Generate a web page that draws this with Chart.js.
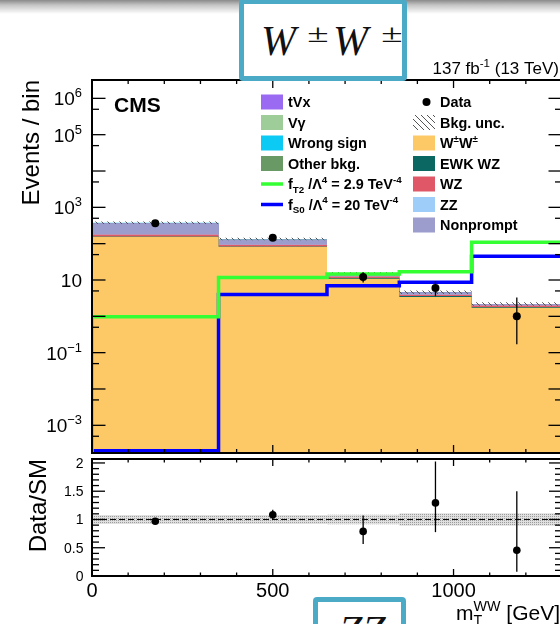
<!DOCTYPE html>
<html>
<head>
<meta charset="utf-8">
<script src="https://cdn.jsdelivr.net/npm/chart.js@4.4.0/dist/chart.umd.min.js"></script>
<style>
  html, body { margin: 0; padding: 0; background: #fff; width: 560px; height: 624px; overflow: hidden; position: relative; }
  canvas { position: absolute; left: 0; top: 0; }
  #sombra { position: absolute; left: 0; top: 0; width: 560px; height: 14px;
            background: linear-gradient(to bottom, #8a8a8a 0px, #c4c4c4 5px, rgba(255,255,255,0) 14px); }
  .caja { position: absolute; box-sizing: border-box; border: 5px solid #4baac5; border-radius: 4px;
          background: #fff; overflow: hidden; font-family: "Liberation Serif", "DejaVu Serif", serif;
          font-style: italic; color: #111; }
  .caja span { position: absolute; white-space: nowrap; }
  .caja .pm { font-size: 34px; line-height: 34px; transform: scale(1.15, 0.72); transform-origin: 0 28.5px; }
</style>
</head>
<body>
<canvas id="principal" width="580" height="624" style="width:580px;height:624px"></canvas>
<canvas id="cociente" width="580" height="624" style="width:580px;height:624px"></canvas>
<div id="sombra"></div>
<div class="caja" style="left:239px; top:-1px; width:168px; height:82px;">
  <span style="left:17px; top:16px; font-size:42px; line-height:42px;">W</span>
  <span class="pm" style="left:63px; top:10px;">±</span>
  <span style="left:89px; top:16px; font-size:42px; line-height:42px;">W</span>
  <span class="pm" style="left:137px; top:10px;">±</span>
</div>
<div class="caja" style="left:313px; top:597px; width:93px; height:60px;">
  <span style="left:21px; top:8px; font-size:42px; line-height:42px;">ZZ</span>
</div>
<script>
// bins en m_T^WW (GeV)
const bordes = [0, 350, 650, 850, 1050, 1300];

// datos observados y su intervalo
const datos = [365, 146, 12, 6, 1];
const datosBajo = [346, 134, 8.6, 3.6, 0.17];
const datosAlto = [385, 158, 16.3, 9.4, 3.3];

// fondos por bin (eventos)
const wpmwpm = [155, 82, 10.8, 3.4, 1.72];
const ewkWZ = [3, 2, 0.5, 0.2, 0.1];
const wz = [22, 10, 1.2, 0.35, 0.16];
const zz = [4, 1.5, 0.2, 0.05, 0.03];
const noPrompt = [170, 32, 1.8, 0.45, 0.13];
const tVx = [4, 1.5, 0.2, 0.05, 0.02];
const vGamma = [4, 1, 0.1, 0.03, 0.01];
const otrosFondos = [3, 1, 0.1, 0.03, 0.01];
const signoErroneo = [12, 4, 0.3, 0.08, 0.02];

// incertidumbre relativa del fondo
const incRelativa = [0.08, 0.08, 0.085, 0.11, 0.11];

// señales aQGC
const senalFT2 = [0.98, 11.8, 14.6, 17, 109];
const senalFS0 = [2e-4, 4.0, 6.9, 8.7, 45];

// etiquetas de los ejes
const exponentesY = [6, 5, 3, 1, -1, -3];
const marcasCociente = ['0', '0.5', '1', '1.5', '2'];
const marcasX = [0, 500, 1000];

const Y_MIN = 1.73e-4, Y_MAX = 3.2e6;
const X_MAX = 1300;
const FUENTE = '"Liberation Sans", Arial, Helvetica, sans-serif';

const colores = {
  ww: '#fdc967', ewk: '#0b6761', wz: '#e05867', zz: '#9fcdf9', np: '#9c9ccd',
  tvx: '#9b6af2', vg: '#9fcd9a', otros: '#699a65', signo: '#0bcbf5',
  ft2: '#33ff33', fs0: '#0000ff'
};

// orden de apilado, de abajo hacia arriba
const capas = [
  { valores: wpmwpm, color: colores.ww },
  { valores: ewkWZ, color: colores.ewk },
  { valores: wz, color: colores.wz },
  { valores: zz, color: colores.zz },
  { valores: noPrompt, color: colores.np },
  { valores: tVx, color: colores.tvx },
  { valores: vGamma, color: colores.vg },
  { valores: otrosFondos, color: colores.otros },
  { valores: signoErroneo, color: colores.signo }
];

const centros = bordes.slice(0, -1).map((b, i) => (b + bordes[i + 1]) / 2);
const escalones = v => bordes.map((x, i) => ({ x, y: v[Math.min(i, v.length - 1)] }));

let acumulado = centros.map(() => 0);
const conjuntosPila = capas.map(c => {
  acumulado = acumulado.map((a, i) => a + c.valores[i]);
  return {
    data: escalones(acumulado), stepped: true, fill: 'start',
    backgroundColor: c.color, borderColor: 'rgba(0,0,0,0)', borderWidth: 0, pointRadius: 0
  };
});
const total = acumulado;

function fuente(tam, negrita) { return (negrita ? 'bold ' : '') + tam + 'px ' + FUENTE; }

function patronRayado() {
  const c = document.createElement('canvas'); c.width = c.height = 6;
  const g = c.getContext('2d');
  g.strokeStyle = '#555'; g.lineWidth = 1;
  g.beginPath();
  for (let k = -6; k <= 6; k += 6) { g.moveTo(k, 0); g.lineTo(k + 6, 6); }
  g.stroke();
  return g.createPattern(c, 'repeat');
}
function patronPunteado() {
  const c = document.createElement('canvas'); c.width = c.height = 2;
  const g = c.getContext('2d');
  g.fillStyle = '#e0e0e0'; g.fillRect(0, 0, 2, 2);
  g.fillStyle = '#9c9c9c'; g.fillRect(0, 0, 1, 1);
  return g.createPattern(c, 'repeat');
}
const rayado = patronRayado();

// texto con sub/superíndices: partes = [[texto, 'n' | 'sup' | 'sub' | 'ss']]
function textoRico(ctx, partes, x, y, tam, negrita, alinear) {
  const chico = tam * 0.68;
  const anchos = partes.map(([t, m]) => {
    if (m === 'ss') {
      ctx.font = fuente(chico, negrita);
      return Math.max(ctx.measureText(t[0]).width, ctx.measureText(t[1]).width);
    }
    ctx.font = fuente(m === 'n' ? tam : chico, negrita);
    return ctx.measureText(t).width;
  });
  const ancho = anchos.reduce((a, b) => a + b, 0);
  let px = alinear === 'right' ? x - ancho : alinear === 'center' ? x - ancho / 2 : x;
  ctx.textAlign = 'left';
  ctx.textBaseline = 'alphabetic';
  partes.forEach(([t, m], k) => {
    if (m === 'ss') {
      ctx.font = fuente(chico, negrita);
      ctx.fillText(t[0], px, y - tam * 0.42);
      ctx.fillText(t[1], px, y + tam * 0.25);
    } else {
      ctx.font = fuente(m === 'n' ? tam : chico, negrita);
      const dy = m === 'sup' ? -tam * 0.42 : m === 'sub' ? tam * 0.25 : 0;
      ctx.fillText(t, px, y + dy);
    }
    px += anchos[k];
  });
}

function raya(ctx, x1, y1, x2, y2) { ctx.beginPath(); ctx.moveTo(x1, y1); ctx.lineTo(x2, y2); ctx.stroke(); }

function barrasError(chart, xs, bajos, altos) {
  const { ctx, chartArea: a } = chart;
  const sx = chart.scales.x, sy = chart.scales.y;
  ctx.save();
  ctx.beginPath(); ctx.rect(a.left, a.top, a.right - a.left, a.bottom - a.top); ctx.clip();
  ctx.strokeStyle = '#000'; ctx.lineWidth = 1.3;
  xs.forEach((x, i) => {
    const px = sx.getPixelForValue(x);
    raya(ctx, px, sy.getPixelForValue(bajos[i]), px, sy.getPixelForValue(altos[i]));
  });
  ctx.restore();
}

function marcasHorizontales(ctx, sx, a, largoMayor, largoMenor) {
  for (let v = 0; v <= X_MAX; v += 100) {
    const px = sx.getPixelForValue(v);
    const l = v % 500 === 0 ? largoMayor : largoMenor;
    raya(ctx, px, a.bottom, px, a.bottom - l);
    raya(ctx, px, a.top, px, a.top + l);
  }
}

// leyenda
const leyendaIzq = [
  { tipo: 'caja', color: colores.tvx, partes: [['tVx', 'n']] },
  { tipo: 'caja', color: colores.vg, partes: [['Vγ', 'n']] },
  { tipo: 'caja', color: colores.signo, partes: [['Wrong sign', 'n']] },
  { tipo: 'caja', color: colores.otros, partes: [['Other bkg.', 'n']] },
  { tipo: 'linea', color: colores.ft2, partes: [['f', 'n'], ['T2', 'sub'], [' /', 'n'], ['Λ', 'n'], ['4', 'sup'], [' = 2.9 TeV', 'n'], ['-4', 'sup']] },
  { tipo: 'linea', color: colores.fs0, partes: [['f', 'n'], ['S0', 'sub'], [' /', 'n'], ['Λ', 'n'], ['4', 'sup'], [' = 20 TeV', 'n'], ['-4', 'sup']] }
];
const leyendaDer = [
  { tipo: 'punto', partes: [['Data', 'n']] },
  { tipo: 'rayado', partes: [['Bkg. unc.', 'n']] },
  { tipo: 'caja', color: colores.ww, partes: [['W', 'n'], ['±', 'sup'], ['W', 'n'], ['±', 'sup']] },
  { tipo: 'caja', color: colores.ewk, partes: [['EWK WZ', 'n']] },
  { tipo: 'caja', color: colores.wz, partes: [['WZ', 'n']] },
  { tipo: 'caja', color: colores.zz, partes: [['ZZ', 'n']] },
  { tipo: 'caja', color: colores.np, partes: [['Nonprompt', 'n']] }
];

function dibujarLeyenda(ctx, entradas, x0) {
  entradas.forEach((e, k) => {
    const yc = 102 + 20.5 * k;
    if (e.tipo === 'caja') { ctx.fillStyle = e.color; ctx.fillRect(x0, yc - 7.5, 22, 15); }
    if (e.tipo === 'rayado') { ctx.fillStyle = rayado; ctx.fillRect(x0, yc - 7.5, 22, 15); }
    if (e.tipo === 'linea') { ctx.strokeStyle = e.color; ctx.lineWidth = 3.5; raya(ctx, x0, yc, x0 + 22, yc); }
    if (e.tipo === 'punto') { ctx.fillStyle = '#000'; ctx.beginPath(); ctx.arc(x0 + 13.5, yc, 4, 0, Math.PI * 2); ctx.fill(); }
    ctx.fillStyle = '#000';
    textoRico(ctx, e.partes, x0 + 27, yc + 5, 14.4, true, 'left');
  });
}

const marcoPrincipal = {
  id: 'marcoPrincipal',
  afterDatasetsDraw(chart) { barrasError(chart, centros, datosBajo, datosAlto); },
  afterDraw(chart) {
    const { ctx, chartArea: a } = chart;
    const sx = chart.scales.x, sy = chart.scales.y;
    ctx.save();
    ctx.strokeStyle = '#000'; ctx.lineWidth = 1.3;
    for (let e = -4; e <= 6; e++) {
      [1, 5].forEach(m => {
        const v = m * Math.pow(10, e);
        if (v < Y_MIN || v > Y_MAX) return;
        const py = sy.getPixelForValue(v);
        const l = m === 1 ? 13.5 : 7;
        raya(ctx, a.left, py, a.left + l, py);
        raya(ctx, a.right, py, a.right - l, py);
      });
    }
    marcasHorizontales(ctx, sx, a, 8, 4);
    ctx.lineWidth = 2;
    ctx.strokeRect(a.left, a.top, a.right - a.left, a.bottom - a.top);

    ctx.fillStyle = '#000';
    exponentesY.forEach(e => {
      const py = sy.getPixelForValue(Math.pow(10, e));
      const partes = e === 1 ? [['10', 'n']] : [['10', 'n'], [String(e).replace('-', '−'), 'sup']];
      textoRico(ctx, partes, 82, py + 7, 19, false, 'right');
    });

    ctx.font = fuente(21, true);
    ctx.fillText('CMS', 114, 111.5);
    textoRico(ctx, [['137 fb', 'n'], ['-1', 'sup'], [' (13 TeV)', 'n']], 559, 74, 17, false, 'right');

    ctx.save();
    ctx.translate(39, a.top); ctx.rotate(-Math.PI / 2);
    ctx.font = fuente(24, false); ctx.textAlign = 'right'; ctx.textBaseline = 'alphabetic';
    ctx.fillText('Events / bin', 0, 0);
    ctx.restore();

    dibujarLeyenda(ctx, leyendaIzq, 261);
    dibujarLeyenda(ctx, leyendaDer, 413);
    ctx.restore();
  }
};

new Chart(document.getElementById('principal'), {
  type: 'line',
  data: {
    datasets: [
      { data: centros.map((x, i) => ({ x, y: datos[i] })), showLine: false,
        pointRadius: 4, pointBackgroundColor: '#000', pointBorderWidth: 0 },
      { data: [{ x: bordes[0], y: Y_MIN }, ...escalones(senalFT2)], stepped: true, fill: false,
        borderColor: colores.ft2, borderWidth: 3.5, pointRadius: 0 },
      { data: [{ x: bordes[0], y: Y_MIN }, ...escalones(senalFS0)], stepped: true, fill: false,
        borderColor: colores.fs0, borderWidth: 3.5, pointRadius: 0 },
      { data: escalones(total.map((t, i) => t * (1 + incRelativa[i]))), stepped: true, fill: '+1',
        backgroundColor: rayado, borderColor: 'rgba(0,0,0,0)', borderWidth: 0, pointRadius: 0 },
      { data: escalones(total.map((t, i) => t * (1 - incRelativa[i]))), stepped: true, fill: false,
        borderColor: 'rgba(0,0,0,0)', borderWidth: 0, pointRadius: 0 },
      ...conjuntosPila
    ]
  },
  options: {
    responsive: false, animation: false, events: [],
    layout: { padding: { left: 92, right: 18, top: 80, bottom: 171 } },
    scales: {
      x: { type: 'linear', min: 0, max: X_MAX, display: false },
      y: { type: 'logarithmic', min: Y_MIN, max: Y_MAX, display: false }
    },
    plugins: { legend: { display: false }, tooltip: { enabled: false } }
  },
  plugins: [marcoPrincipal]
});

// panel inferior: datos / SM
const cociente = datos.map((d, i) => d / total[i]);
const cocienteBajo = datosBajo.map((d, i) => d / total[i]);
const cocienteAlto = datosAlto.map((d, i) => d / total[i]);

const marcoCociente = {
  id: 'marcoCociente',
  afterDatasetsDraw(chart) { barrasError(chart, centros, cocienteBajo, cocienteAlto); },
  afterDraw(chart) {
    const { ctx, chartArea: a } = chart;
    const sx = chart.scales.x, sy = chart.scales.y;
    ctx.save();
    ctx.strokeStyle = '#000'; ctx.lineWidth = 1.3;
    for (let k = 0; k <= 20; k++) {
      const py = sy.getPixelForValue(k / 10);
      const l = k % 5 === 0 ? 13 : 7;
      raya(ctx, a.left, py, a.left + l, py);
      raya(ctx, a.right, py, a.right - l, py);
    }
    marcasHorizontales(ctx, sx, a, 7, 3.5);
    ctx.lineWidth = 2;
    ctx.strokeRect(a.left, a.top, a.right - a.left, a.bottom - a.top);

    ctx.fillStyle = '#000';
    ctx.font = fuente(14, false); ctx.textAlign = 'right'; ctx.textBaseline = 'alphabetic';
    marcasCociente.forEach(t => ctx.fillText(t, 83.5, sy.getPixelForValue(parseFloat(t)) + 5));
    ctx.font = fuente(20, false); ctx.textAlign = 'center';
    marcasX.forEach(v => ctx.fillText(String(v), sx.getPixelForValue(v), 597));

    textoRico(ctx, [['m', 'n'], [['WW', 'T'], 'ss'], [' [GeV]', 'n']], 560, 620, 21, false, 'right');

    ctx.save();
    ctx.translate(46, a.top); ctx.rotate(-Math.PI / 2);
    ctx.font = fuente(24, false); ctx.textAlign = 'right'; ctx.textBaseline = 'alphabetic';
    ctx.fillText('Data/SM', 0, 0);
    ctx.restore();
    ctx.restore();
  }
};

new Chart(document.getElementById('cociente'), {
  type: 'line',
  data: {
    datasets: [
      { data: centros.map((x, i) => ({ x, y: cociente[i] })), showLine: false,
        pointRadius: 3.8, pointBackgroundColor: '#000', pointBorderWidth: 0 },
      { data: [{ x: 0, y: 1 }, { x: X_MAX, y: 1 }], fill: false, borderColor: '#000',
        borderWidth: 1, borderDash: [6, 3], pointRadius: 0 },
      { data: escalones(incRelativa.map(u => 1 + u)), stepped: true, fill: '+1',
        backgroundColor: patronPunteado(), borderColor: 'rgba(0,0,0,0)', borderWidth: 0, pointRadius: 0 },
      { data: escalones(incRelativa.map(u => 1 - u)), stepped: true, fill: false,
        borderColor: 'rgba(0,0,0,0)', borderWidth: 0, pointRadius: 0 }
    ]
  },
  options: {
    responsive: false, animation: false, events: [],
    layout: { padding: { left: 92, right: 18, top: 459, bottom: 48 } },
    scales: {
      x: { type: 'linear', min: 0, max: X_MAX, display: false },
      y: { type: 'linear', min: 0, max: 2.07, display: false }
    },
    plugins: { legend: { display: false }, tooltip: { enabled: false } }
  },
  plugins: [marcoCociente]
});
</script>
</body>
</html>
